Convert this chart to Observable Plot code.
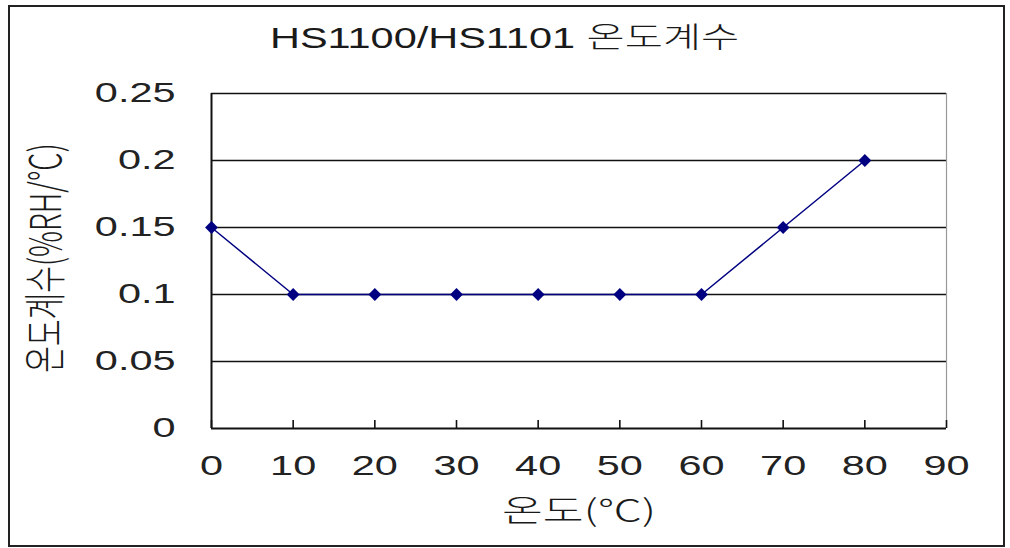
<!DOCTYPE html>
<html>
<head>
<meta charset="utf-8">
<script src="https://cdn.jsdelivr.net/npm/d3@7"></script>
<script src="https://cdn.jsdelivr.net/npm/@observablehq/plot@0.6"></script>
<style>
  html, body { margin: 0; padding: 0; background: #fff; }
  #wrap { position: relative; width: 1010px; height: 548px; }
  #border { position: absolute; left: 8px; top: 5px; width: 993px; height: 538px; border: 2px solid #222; pointer-events: none; }
  #title { position: absolute; left: 0; top: 18px; width: 1010px; text-align: center; font-family: "Liberation Sans", "Noto Sans CJK KR", sans-serif; font-weight: 400; font-size: 29px; line-height: 34px; color: #1a1a1a; transform: scaleX(1.43); transform-origin: 506px 0; }
  #title .ko { font-family: "Noto Sans CJK KR", sans-serif; font-weight: 300; }
</style>
</head>
<body>
<div id="wrap">
  <div id="chart"></div>
  <div id="border"></div>
  <div id="title"></div>
</div>
<script>
const titleLatin = "HS1100/HS1101";
const titleKorean = "온도계수";
const temps = [0, 10, 20, 30, 40, 50, 60, 70, 80];
const coeffs = [0.15, 0.1, 0.1, 0.1, 0.1, 0.1, 0.1, 0.15, 0.2];
const xTicks = [0, 10, 20, 30, 40, 50, 60, 70, 80, 90];
const yTicks = [0, 0.05, 0.1, 0.15, 0.2, 0.25];
const yTickLabels = ["0", "0.05", "0.1", "0.15", "0.2", "0.25"];
const xTitle = "온도(℃)";
const yTitle = "온도계수(%RH/℃)";

const titleEl = document.getElementById("title");
titleEl.append(titleLatin + " ");
const ko = document.createElement("span");
ko.className = "ko";
ko.textContent = titleKorean;
titleEl.append(ko);

const data = temps.map((t, i) => ({t, c: coeffs[i]}));

const chart = Plot.plot({
  width: 1010,
  height: 548,
  marginLeft: 211,
  marginRight: 64,
  marginTop: 93,
  marginBottom: 120,
  style: {fontFamily: "'Liberation Sans', 'Noto Sans CJK KR', sans-serif", fontSize: "28px", color: "#1a1a1a", background: "#fff"},
  x: {domain: [0, 90]},
  y: {domain: [0, 0.25]},
  marks: [
    Plot.ruleY(yTicks.slice(1), {stroke: "#111", strokeWidth: 1.6}),
    Plot.ruleX([90], {stroke: "#999", strokeWidth: 1.2}),
    Plot.tickX(xTicks, {x: d => d, stroke: "#111", strokeWidth: 1.6, insetTop: 327}),
    Plot.axisY({ticks: yTicks, tickFormat: d => yTickLabels[yTicks.indexOf(d)], tickSize: 0, tickPadding: 36,
      label: null, fontSize: 28, fill: "#222"}),
    Plot.axisX({ticks: xTicks, tickSize: 0, tickPadding: 27, label: null, fontSize: 28, fill: "#222"}),
    Plot.text([yTitle], {text: d => d, frameAnchor: "left", rotate: -90, dx: -164, dy: -3, fontSize: 29, fontWeight: 300,
      textAnchor: "middle", fontFamily: "'Noto Sans CJK KR', sans-serif", fill: "#1a1a1a", lineAnchor: "middle"}),
    Plot.text([xTitle], {text: d => d, frameAnchor: "bottom", dy: 83, fontSize: 30, fontWeight: 300,
      fontFamily: "'Noto Sans CJK KR', sans-serif", fill: "#1a1a1a", lineAnchor: "middle"}),
    Plot.ruleX([0], {stroke: "#111", strokeWidth: 2}),
    Plot.ruleY([0], {stroke: "#111", strokeWidth: 2}),
    Plot.line(data, {x: "t", y: "c", stroke: "#000080", strokeWidth: 1.5}),
    Plot.dot(data, {x: "t", y: "c", symbol: "diamond2", r: 5.8, fill: "#000080", stroke: "none"})
  ]
});

// The reference artwork is stretched horizontally; widen all glyphs in page x.
const S = 1.48;
d3.select(chart).selectAll("text").each(function () {
  const t = this.getAttribute("transform");
  if (t && /^translate\([^)]*\)/.test(t)) {
    this.setAttribute("transform", t.replace(/^(translate\([^)]*\))/, `$1 scale(${S},1)`));
  } else {
    const x = +this.getAttribute("x") || 0, y = +this.getAttribute("y") || 0;
    this.removeAttribute("x"); this.removeAttribute("y");
    this.setAttribute("transform", `translate(${x},${y}) scale(${S},1)` + (t ? " " + t : ""));
  }
});
document.getElementById("chart").appendChild(chart);
</script>
</body>
</html>
